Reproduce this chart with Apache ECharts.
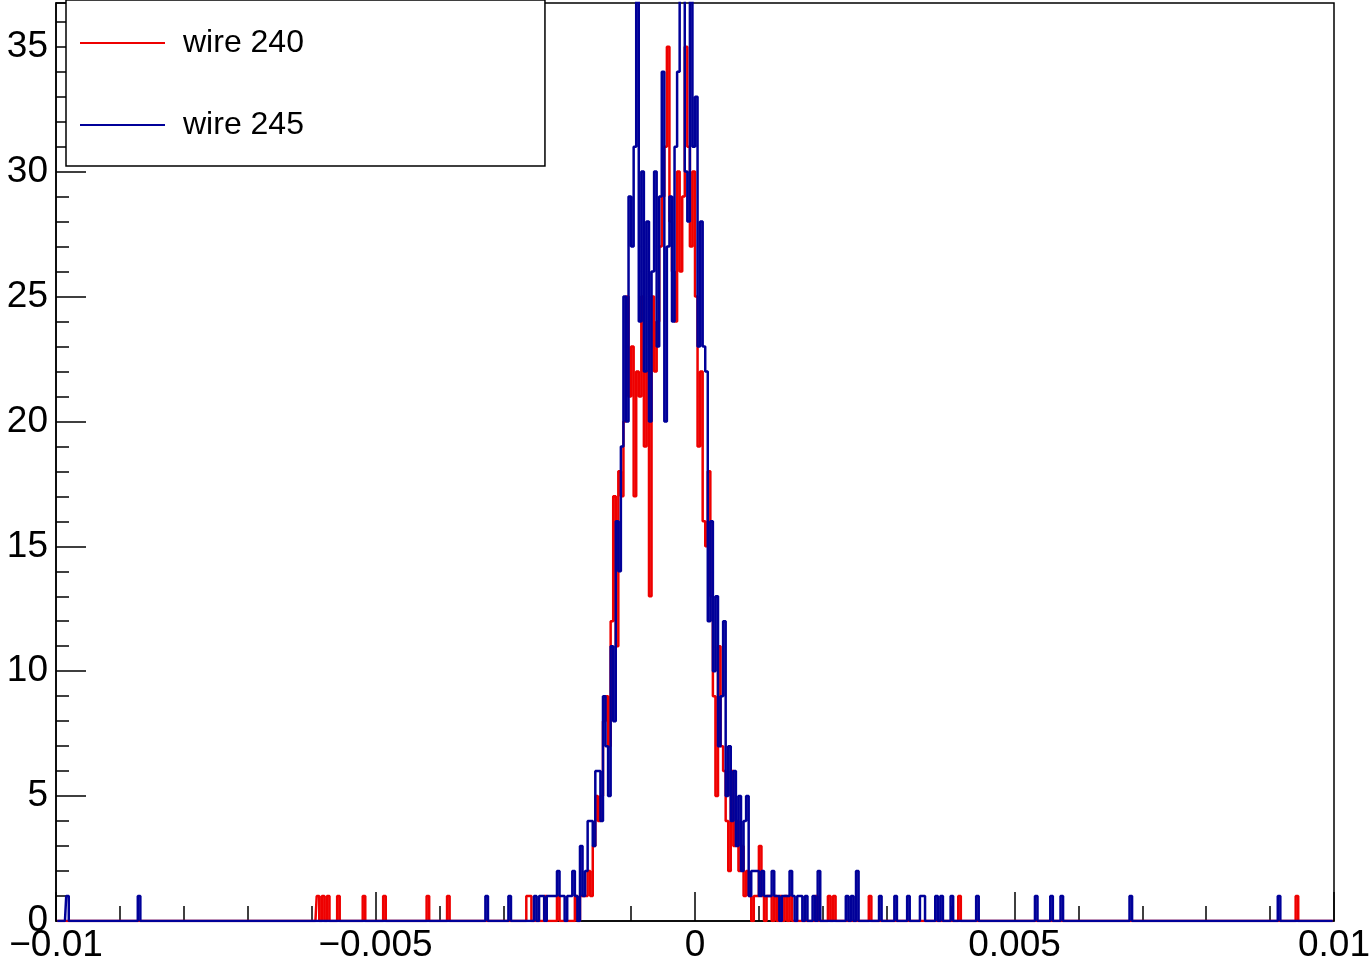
<!DOCTYPE html>
<html>
<head>
<meta charset="utf-8">
<title>wire 240 / wire 245</title>
<script src="https://cdn.jsdelivr.net/npm/echarts@6/dist/echarts.min.js"></script>
<style>
  html, body { margin: 0; padding: 0; background: #fff; }
  #chart { width: 1370px; height: 963px; }
</style>
</head>
<body>
<div id="chart"></div>
<script>
// histogram binning: 500 bins on [-0.01, 0.01]
const xMin = -0.01
const xMax = 0.01
const nBins = 500
const yMax = 36.75 // 1.05 * max of first histogram (35)

// dense part of the distribution, counts for bins 190..304
const peakFirstBin = 190
const wire240Peak = [
  0, 1, 0, 0, 0, 0, 1, 0, 0, 0,
  0, 0, 0, 1, 0, 1, 1, 1, 2, 1,
  3, 5, 4, 5, 8, 9, 7, 12, 17, 11,
  18, 17, 20, 25, 21, 23, 17, 22, 21, 25,
  19, 22, 13, 25, 22, 24, 27, 29, 31, 35,
  28, 26, 24, 30, 26, 29, 35, 31, 27, 30,
  25, 19, 22, 16, 15, 18, 13, 9, 5, 11,
  7, 6, 4, 2, 6, 3, 4, 2, 3, 1,
  2, 1, 0, 1, 1, 3, 1, 0, 1, 1,
  0, 1, 0, 1, 0, 1, 0, 1, 0, 0,
  0, 0, 0, 0, 0, 0, 0, 1, 0, 0,
  0, 0, 1, 0, 1
]
const wire245Peak = [
  1, 0, 1, 1, 1, 1, 2, 1, 1, 0,
  1, 1, 2, 1, 0, 3, 1, 2, 4, 4,
  3, 6, 6, 4, 9, 7, 5, 11, 8, 16,
  14, 19, 25, 20, 29, 27, 31, 38, 24, 30,
  22, 28, 20, 26, 30, 23, 29, 34, 20, 27,
  29, 24, 31, 34, 38, 38, 30, 28, 38, 31,
  33, 23, 28, 23, 22, 12, 16, 10, 13, 7,
  9, 12, 5, 7, 4, 6, 3, 5, 2, 4,
  5, 1, 2, 2, 2, 1, 2, 1, 1, 1,
  2, 1, 1, 0, 1, 1, 1, 2, 1, 0,
  1, 1, 0, 1, 0, 0, 1, 0, 2, 0,
  0, 0, 0, 0, 0
]

// isolated entries in the tails: [x, count]
const wire240Tail = [
  [-0.00592, 1], [-0.00584, 1], [-0.00576, 1], [-0.00560, 1], [-0.00518, 1],
  [-0.00488, 1], [-0.00419, 1], [-0.00388, 1], [-0.00264, 1], [-0.00257, 1],
  [0.00275, 1], [0.00413, 1], [0.00941, 1]
]
const wire245Tail = [
  [-0.00983, 1], [-0.00870, 1], [-0.00327, 1], [-0.00291, 1], [-0.00249, 1],
  [-0.00244, 1], [0.00236, 1], [0.00246, 1], [0.00255, 2], [0.00291, 1],
  [0.00315, 1], [0.00333, 1], [0.00354, 1], [0.00358, 1], [0.00379, 1],
  [0.00385, 1], [0.00402, 1], [0.00440, 1], [0.00534, 1], [0.00559, 1],
  [0.00573, 1], [0.00681, 1], [0.00912, 1]
]

const seriesNames = ['wire 240', 'wire 245']
const seriesColors = ['#ee0000', '#000099']
const fontFamily = '"Liberation Sans", Arial, Helvetica, sans-serif'

const binWidth = (xMax - xMin) / nBins

function buildHist(peak, tail) {
  const counts = new Array(nBins).fill(0)
  peak.forEach((c, k) => { counts[peakFirstBin + k] += c })
  tail.forEach(([x, c]) => {
    const i = Math.floor((x - xMin) / binWidth + 1e-9)
    if (i >= 0 && i < nBins) counts[i] += c
  })
  return counts.map((c, i) => [xMin + (i + 0.5) * binWidth, c])
}

const hists = [buildHist(wire240Peak, wire240Tail), buildHist(wire245Peak, wire245Tail)]

function fmtX(v) {
  const s = String(+v.toFixed(4))
  return s.replace('-', '\u2212')
}

const black = { color: '#000', width: 1.5 }

const chart = echarts.init(document.getElementById('chart'))
chart.setOption({
  animation: false,
  backgroundColor: '#fff',
  grid: {
    left: 56, right: 36, top: 3, bottom: 42,
    show: true, borderColor: '#000', borderWidth: 1.5,
    containLabel: false, outerBoundsMode: 'none'
  },
  legend: {
    left: 66, top: 0, orient: 'vertical',
    data: seriesNames,
    icon: 'rect',
    padding: [27, 241, 25, 14],
    itemGap: 50,
    itemWidth: 85, itemHeight: 2,
    borderColor: '#000', borderWidth: 1.5, backgroundColor: '#fff',
    selectedMode: false,
    textStyle: { fontSize: 32, fontFamily, color: '#000', lineHeight: 32, padding: [0, 0, 0, 13] }
  },
  xAxis: {
    type: 'value', min: xMin, max: xMax, interval: 0.005,
    axisLine: { show: true, onZero: false, lineStyle: black },
    axisTick: { inside: true, length: 29, lineStyle: black },
    minorTick: { show: true, splitNumber: 5, length: 15, lineStyle: black },
    splitLine: { show: false },
    axisLabel: { fontSize: 37, fontFamily, color: '#000', margin: 6, formatter: fmtX }
  },
  yAxis: [
    {
      type: 'value', min: 0, max: yMax, interval: 5, position: 'left',
      axisLine: { show: true, onZero: false, lineStyle: black },
      axisTick: { inside: true, length: 30, lineStyle: black },
      splitLine: { show: false },
      axisLabel: { fontSize: 37, fontFamily, color: '#000', margin: 8, showMaxLabel: false }
    },
    {
      type: 'value', min: 0, max: yMax, interval: 1, position: 'left', offset: 0,
      axisLine: { show: false, onZero: false },
      axisTick: { inside: true, length: 13, lineStyle: black },
      splitLine: { show: false },
      axisLabel: { show: false }
    }
  ],
  series: hists.map((data, k) => ({
    name: seriesNames[k],
    type: 'line',
    step: 'middle',
    data,
    yAxisIndex: 0,
    symbol: 'none',
    showSymbol: false,
    clip: true,
    silent: true,
    z: 2 + k,
    lineStyle: { color: seriesColors[k], width: 2.5 },
    itemStyle: { color: seriesColors[k] }
  }))
})
</script>
</body>
</html>
